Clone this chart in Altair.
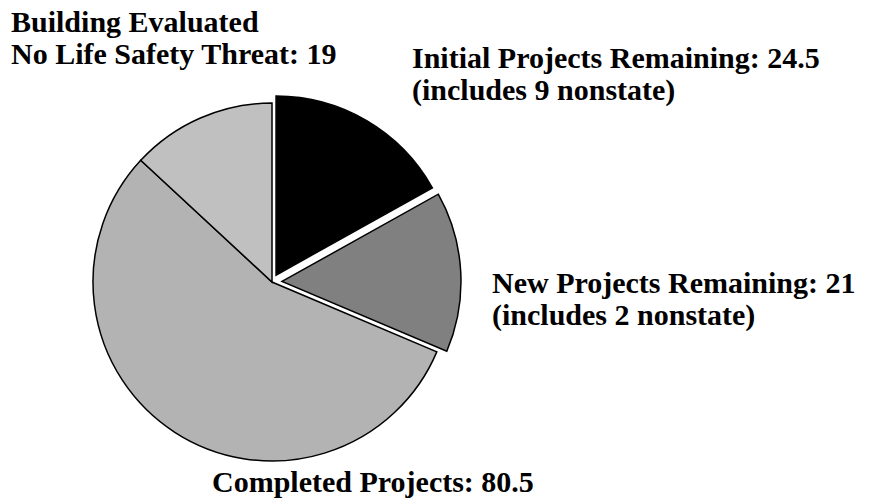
import altair as alt
import pandas as pd
import math

# Data
categories = ["Initial Projects Remaining", "New Projects Remaining",
              "Completed Projects", "Building Evaluated No Life Safety Threat"]
values = [24.5, 21, 80.5, 19]
notes = ["(includes 9 nonstate)", "(includes 2 nonstate)", "", ""]
order_idx = [0, 1, 2, 3]

# Styles
colors = ["#000000", "#808080", "#b3b3b3", "#c0c0c0"]
explode = [8, 10, 0, 0]
CX, CY, R = 264, 274, 179
FONT = "Liberation Serif"
FS = 30
LH = 32

df = pd.DataFrame({"cat": categories, "value": values, "idx": order_idx,
                   "explode": explode})
total = float(sum(values))

pie = alt.Chart(df).transform_window(
    cum="sum(value)", sort=[{"field": "idx"}], frame=[None, 0]
).transform_calculate(
    start="datum.cum - datum.value",
    end="datum.cum",
).transform_calculate(
    mid=f"(datum.start + datum.value/2) / {total} * 2 * PI",
).transform_calculate(
    px=f"{CX} + datum.explode * sin(datum.mid)",
    py=f"{CY} - datum.explode * cos(datum.mid)",
).mark_arc(outerRadius=R, stroke="black", strokeWidth=1.5).encode(
    theta=alt.Theta("start:Q", scale=alt.Scale(domain=[0, total], range=[0, 2 * math.pi])),
    theta2="end:Q",
    x=alt.X("px:Q", scale=None),
    y=alt.Y("py:Q", scale=None),
    color=alt.Color("cat:N", scale=alt.Scale(domain=categories, range=colors), legend=None),
)

one = pd.DataFrame({"k": [0]})


def label(lines, x, y):
    return alt.Chart(one).mark_text(
        text=lines, font=FONT, fontSize=FS, fontWeight="bold", align="left",
        baseline="alphabetic", lineHeight=LH, color="black"
    ).encode(x=alt.value(x), y=alt.value(y))


def fmt(v):
    return str(int(v)) if float(v).is_integer() else str(v)


lab_initial = label([f"{categories[0]}: {fmt(values[0])}", notes[0]], 404, 60)
lab_new = label([f"{categories[1]}: {fmt(values[1])}", notes[1]], 484, 285)
lab_done = label([f"{categories[2]}: {fmt(values[2])}"], 204, 484)
lab_bldg = label(["Building Evaluated", f"No Life Safety Threat: {fmt(values[3])}"], 3, 24)

chart = alt.layer(pie, lab_initial, lab_new, lab_done, lab_bldg).properties(
    width=862, height=494,
    autosize=alt.AutoSizeParams(type="none"),
    padding=0,
).configure_view(stroke=None)

chart.save("out.html", embed_options={"renderer": "svg", "actions": False})
